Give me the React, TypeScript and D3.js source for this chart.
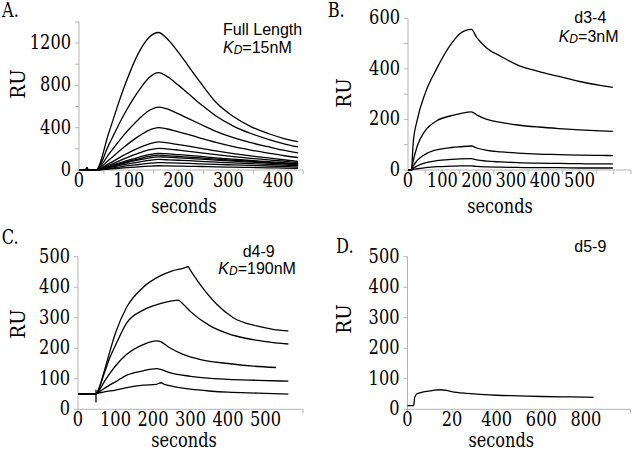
import React from "react";
import * as d3 from "d3";

// ---------- Panel A (Full Length) ----------
const timesA = [0, 14, 16, 18, 34, 60, 90, 120, 140, 160, 175, 200, 220, 245, 275, 310, 345, 380, 410, 440];
const seriesA = [
  [0, 0, 18, 0, 0, 355, 775, 1110, 1250, 1300, 1250, 1110, 980, 820, 640, 505, 410, 345, 300, 268],
  [0, 0, 18, 0, 0, 240, 520, 750, 870, 920, 890, 800, 720, 620, 510, 415, 345, 290, 250, 218],
  [0, 0, 18, 0, 0, 150, 330, 480, 560, 595, 580, 530, 485, 430, 365, 305, 258, 220, 188, 162],
  [0, 0, 18, 0, 0, 95, 215, 320, 375, 400, 390, 360, 335, 300, 260, 220, 188, 160, 137, 118],
  [0, 0, 18, 0, 0, 60, 140, 210, 245, 265, 258, 240, 225, 205, 180, 155, 133, 114, 97, 82],
  [0, 0, 18, 0, 0, 45, 105, 160, 190, 205, 200, 188, 177, 162, 145, 127, 110, 96, 83, 70],
  [0, 0, 18, 0, 0, 35, 80, 120, 145, 158, 154, 145, 138, 128, 115, 102, 90, 79, 69, 60],
  [0, 0, 18, 0, 0, 30, 70, 105, 128, 140, 136, 128, 122, 114, 103, 92, 82, 72, 63, 55],
  [0, 0, 18, 0, 0, 27, 62, 95, 113, 125, 122, 115, 109, 102, 93, 83, 74, 65, 57, 49],
  [0, 0, 18, 0, 0, 22, 50, 75, 90, 100, 97, 92, 88, 82, 75, 67, 60, 53, 46, 40],
  [0, 0, 18, 0, 0, 15, 35, 52, 63, 70, 68, 65, 62, 58, 53, 48, 43, 38, 33, 28],
  [0, 0, 18, 0, 0, 9, 20, 30, 36, 40, 39, 37, 35, 33, 30, 27, 24, 21, 18, 15],
];

// ---------- Panel B (d3-4) ----------
const timesB = [0, 10, 15, 27, 50, 84, 127, 152, 185, 200, 230, 270, 320, 380, 440, 500, 560, 597];
const seriesB = [
  [0, 0, 105, 198, 303, 402, 501, 540, 556, 525, 482, 450, 415, 390, 370, 350, 335, 327],
  [0, 0, 35, 95, 155, 195, 215, 223, 230, 218, 200, 188, 178, 170, 164, 159, 155, 153],
  [0, 0, 15, 38, 62, 80, 89, 92, 95, 87, 78, 72, 67, 63, 61, 59, 58, 57],
  [0, 0, 6, 16, 28, 37, 42, 44, 45, 40, 35, 32, 29, 27, 26, 25, 24, 24],
  [0, 0, 2, 5, 9, 13, 15, 16, 16, 14, 12, 11, 10, 9, 9, 8, 8, 8],
];

// ---------- Panel C (d4-9) : [seconds, RU] ----------
const curveC1 = [[0, 50], [48, 50], [52, 57], [70, 125], [85, 190], [100, 250], [130, 335], [174, 400], [219, 437], [250, 453], [280, 462], [294, 467], [300, 455], [325, 410], [370, 344], [414, 300], [476, 273], [520, 262], [561, 257]];
const curveC2 = [[0, 50], [48, 50], [52, 57], [70, 118], [85, 170], [100, 210], [130, 283], [174, 325], [219, 346], [250, 355], [267, 358], [280, 345], [300, 320], [350, 275], [400, 248], [450, 232], [500, 222], [561, 214]];
const curveC3 = [[0, 50], [48, 50], [52, 55], [70, 90], [85, 118], [100, 142], [130, 180], [174, 212], [209, 224], [220, 222], [240, 205], [280, 180], [330, 162], [400, 150], [460, 142], [528, 137]];
const curveC4 = [[0, 50], [48, 50], [52, 54], [70, 68], [85, 80], [100, 90], [130, 112], [174, 126], [209, 133], [220, 131], [240, 122], [300, 108], [400, 98], [480, 95], [561, 92]];
const curveC5 = [[0, 50], [48, 50], [52, 52], [70, 57], [100, 63], [130, 71], [174, 79], [209, 82], [222, 87], [228, 83], [250, 76], [300, 66], [350, 60], [400, 56], [480, 53], [561, 50]];
const spikeC = [[48, 64], [48, 22]];

// ---------- Panel D (d5-9) ----------
const curveD = [[0, 12], [26, 12], [28, 14], [32, 38], [41, 50], [71, 57], [116, 62], [146, 64], [175, 62], [198, 58], [265, 52], [325, 49], [400, 46], [500, 44], [600, 42], [700, 41], [800, 40], [835, 39]];

// ---------- Tick labels ----------
const xTicksA = [0, 100, 200, 300, 400];
const xMinorA = [50, 150, 250, 350, 450];
const yTicksA = [0, 400, 800, 1200];
const yMinorA = [200, 600, 1000, 1400];

const xTicksB = [0, 100, 200, 300, 400, 500];
const xMinorB = [50, 150, 250, 350, 450, 550, 600, 650];
const yTicksB = [0, 200, 400, 600];
const yMinorB = [100, 300, 500];

const xTicksC = [0, 100, 200, 300, 400, 500];
const xMinorC = [600];
const yTicksCD = [0, 100, 200, 300, 400, 500];

const xTicksD = [0, 200, 400, 600, 800];
const xLabelsD = ["0", "20", "400", "600", "800"];
const xMinorD = [1000];

const SERIF = "'DejaVu Serif', serif";
const SANS = "'Liberation Sans', Arial, sans-serif";
const AXIS_COLOR = "#b4b4b4";

function SText({
  x,
  y,
  anchor = "start",
  size = 19.5,
  sx = 0.83,
  rot = false,
  children,
}: {
  x: number;
  y: number;
  anchor?: string;
  size?: number;
  sx?: number;
  rot?: boolean;
  children: React.ReactNode;
}) {
  return (
    <text
      transform={`translate(${x},${y})${rot ? " rotate(-90)" : ""} scale(${sx},1)`}
      textAnchor={anchor}
      fontFamily={SERIF}
      fontSize={size}
      fill="#000"
    >
      {children}
    </text>
  );
}

type PanelProps = {
  xDomain: [number, number];
  xRange: [number, number];
  yDomain: [number, number];
  yRange: [number, number];
  xTicks: number[];
  xLabels?: string[];
  xMinor: number[];
  yTicks: number[];
  yMinor: number[];
  curves: number[][][];
  linear?: number[][][];
  letter: string;
  letterPos: [number, number];
  ruPos: [number, number];
  secPos: [number, number];
};

function Panel(p: PanelProps) {
  const x = d3.scaleLinear().domain(p.xDomain).range(p.xRange);
  const y = d3.scaleLinear().domain(p.yDomain).range(p.yRange);
  const line = d3
    .line<number[]>()
    .x((d) => x(d[0]))
    .y((d) => y(d[1]))
    .curve(d3.curveMonotoneX);
  const straight = d3
    .line<number[]>()
    .x((d) => x(d[0]))
    .y((d) => y(d[1]));
  const x0 = p.xRange[0];
  const y0 = p.yRange[0];
  const tl = 4;
  return (
    <g>
      <SText x={p.letterPos[0]} y={p.letterPos[1]}>{p.letter}</SText>
      <line x1={x0} x2={x0} y1={y0} y2={p.yRange[1]} stroke={AXIS_COLOR} strokeWidth={1} />
      <line x1={x0} x2={p.xRange[1]} y1={y0} y2={y0} stroke={AXIS_COLOR} strokeWidth={1} />
      {[...p.yTicks, ...p.yMinor].map((v, i) => (
        <line key={"yt" + i} x1={x0 - tl} x2={x0} y1={y(v)} y2={y(v)} stroke={AXIS_COLOR} />
      ))}
      {[...p.xTicks, ...p.xMinor].map((v, i) => (
        <line key={"xt" + i} x1={x(v)} x2={x(v)} y1={y0} y2={y0 + tl} stroke={AXIS_COLOR} />
      ))}
      {p.yTicks.map((v, i) => (
        <SText key={"yl" + i} x={x0 - 8} y={y(v) + 6} anchor="end">
          {String(v)}
        </SText>
      ))}
      {p.xTicks.map((v, i) => (
        <SText key={"xl" + i} x={x(v)} y={y0 + 17} anchor="middle">
          {p.xLabels ? p.xLabels[i] : String(v)}
        </SText>
      ))}
      <SText x={p.ruPos[0]} y={p.ruPos[1]} anchor="middle" rot size={20} sx={0.92}>
        RU
      </SText>
      <SText x={p.secPos[0]} y={p.secPos[1]} anchor="middle">
        seconds
      </SText>
      {p.curves.map((c, i) => (
        <path key={"c" + i} d={line(c) || ""} fill="none" stroke="#000" strokeWidth={1.3} />
      ))}
      {(p.linear || []).map((c, i) => (
        <path key={"s" + i} d={straight(c) || ""} fill="none" stroke="#000" strokeWidth={1.3} />
      ))}
    </g>
  );
}

function KD({ x, y, value }: { x: number; y: number; value: string }) {
  return (
    <text x={x} y={y} fontFamily={SANS} fontSize={16}>
      <tspan fontStyle="italic">K</tspan>
      <tspan fontStyle="italic" fontSize={12} dy={1}>D</tspan>
      <tspan dy={-1}>{value}</tspan>
    </text>
  );
}

export default function App() {
  const curvesA = seriesA.map((s) => s.map((v, i) => [timesA[i], v]));
  const curvesB = seriesB.map((s) => s.map((v, i) => [timesB[i], v]));
  const curvesC = [curveC1, curveC2, curveC3, curveC4, curveC5];
  return (
    <svg width={633} height={454} style={{ position: "absolute", left: 0, top: 0, background: "#fff" }}>
      <rect width={633} height={454} fill="#fff" />
      <Panel
        xDomain={[0, 450]}
        xRange={[79, 303.1]}
        yDomain={[0, 1400]}
        yRange={[170, 21.9]}
        xTicks={xTicksA}
        xMinor={xMinorA}
        yTicks={yTicksA}
        yMinor={yMinorA}
        curves={curvesA}
        letter="A."
        letterPos={[2, 17]}
        ruPos={[25, 84]}
        secPos={[184, 213]}
      />
      <text x={223} y={35} fontFamily={SANS} fontSize={16}>Full Length</text>
      <KD x={223} y={53} value="=15nM" />

      <Panel
        xDomain={[0, 650]}
        xRange={[408, 631]}
        yDomain={[0, 600]}
        yRange={[170, 18.3]}
        xTicks={xTicksB}
        xMinor={xMinorB}
        yTicks={yTicksB}
        yMinor={yMinorB}
        curves={curvesB}
        letter="B."
        letterPos={[327.7, 17]}
        ruPos={[351, 93]}
        secPos={[500, 213]}
      />
      <text x={574.3} y={23.3} fontFamily={SANS} fontSize={16}>d3-4</text>
      <KD x={558.7} y={41.7} value="=3nM" />

      <Panel
        xDomain={[0, 600]}
        xRange={[78, 303]}
        yDomain={[0, 500]}
        yRange={[409.3, 256.7]}
        xTicks={xTicksC}
        xMinor={xMinorC}
        yTicks={yTicksCD}
        yMinor={[]}
        curves={curvesC}
        linear={[spikeC]}
        letter="C."
        letterPos={[1.7, 244]}
        ruPos={[25, 324]}
        secPos={[184, 447]}
      />
      <text x={242.7} y={257.3} fontFamily={SANS} fontSize={16}>d4-9</text>
      <KD x={218.3} y={274} value="=190nM" />

      <Panel
        xDomain={[0, 1000]}
        xRange={[407.5, 630.5]}
        yDomain={[0, 500]}
        yRange={[409.3, 256.7]}
        xTicks={xTicksD}
        xLabels={xLabelsD}
        xMinor={xMinorD}
        yTicks={yTicksCD}
        yMinor={[]}
        curves={[curveD]}
        letter="D."
        letterPos={[336, 253.3]}
        ruPos={[351, 319]}
        secPos={[501.3, 447]}
      />
      <text x={574.3} y={252.3} fontFamily={SANS} fontSize={16}>d5-9</text>
    </svg>
  );
}
